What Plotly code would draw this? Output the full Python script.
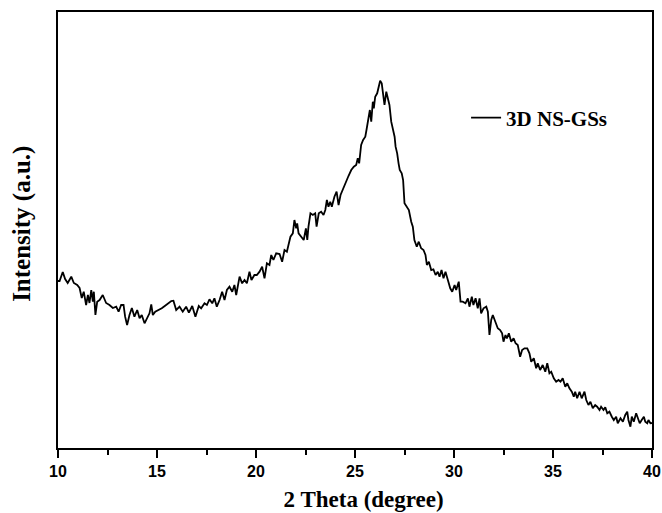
import plotly.graph_objects as go

# 2-theta positions (degree)
two_theta = [
    10.00, 10.08, 10.24, 10.36, 10.49, 10.67, 10.80, 10.97, 11.09, 11.20,
    11.30, 11.42, 11.51, 11.59, 11.68, 11.76, 11.81, 11.89, 11.98, 12.10,
    12.26, 12.43, 12.60, 12.77, 12.94, 13.06, 13.19, 13.31, 13.39, 13.49,
    13.61, 13.73, 13.86, 14.00, 14.12, 14.23, 14.37, 14.51, 14.62, 14.71,
    14.79, 14.91, 15.08, 15.24, 15.41, 15.58, 15.72, 15.83, 15.97, 16.14,
    16.30, 16.47, 16.61, 16.78, 16.94, 17.11, 17.23, 17.40, 17.52, 17.65,
    17.79, 17.90, 18.02, 18.16, 18.29, 18.41, 18.53, 18.66, 18.80, 18.91,
    19.00, 19.17, 19.30, 19.42, 19.54, 19.67, 19.77, 19.92, 20.04, 20.18,
    20.31, 20.43, 20.55, 20.68, 20.77, 20.88, 21.02, 21.19, 21.32, 21.44,
    21.56, 21.64, 21.74, 21.86, 21.94, 22.03, 22.08, 22.15, 22.28, 22.41,
    22.52, 22.59, 22.65, 22.75, 22.87, 22.99, 23.06, 23.17, 23.29, 23.41,
    23.50, 23.58, 23.66, 23.75, 23.83, 23.96, 24.07, 24.17, 24.27, 24.38,
    24.56, 24.67, 24.81, 24.94, 25.06, 25.14, 25.21, 25.31, 25.41, 25.52,
    25.58, 25.68, 25.75, 25.82, 25.90, 25.95, 26.02, 26.12, 26.19, 26.27,
    26.35, 26.44, 26.49, 26.58, 26.66, 26.74, 26.83, 26.91, 27.00, 27.05,
    27.13, 27.20, 27.26, 27.36, 27.43, 27.50, 27.62, 27.72, 27.84, 27.92,
    28.00, 28.12, 28.22, 28.34, 28.46, 28.56, 28.63, 28.73, 28.85, 28.96,
    29.07, 29.18, 29.27, 29.37, 29.47, 29.57, 29.69, 29.81, 29.91, 30.03,
    30.11, 30.24, 30.33, 30.44, 30.58, 30.70, 30.78, 30.90, 30.98, 31.09,
    31.20, 31.29, 31.37, 31.49, 31.63, 31.71, 31.79, 31.88, 31.96, 32.10,
    32.21, 32.33, 32.43, 32.50, 32.60, 32.67, 32.77, 32.89, 33.01, 33.11,
    33.22, 33.34, 33.44, 33.56, 33.70, 33.81, 33.90, 34.03, 34.15, 34.23,
    34.35, 34.48, 34.61, 34.71, 34.82, 34.91, 35.04, 35.16, 35.28, 35.38,
    35.49, 35.62, 35.72, 35.83, 35.95, 36.05, 36.12, 36.22, 36.34, 36.45,
    36.59, 36.68, 36.79, 36.89, 37.01, 37.13, 37.23, 37.35, 37.43, 37.55,
    37.64, 37.74, 37.85, 37.97, 38.07, 38.19, 38.27, 38.41, 38.53, 38.65,
    38.75, 38.81, 38.91, 38.98, 39.08, 39.20, 39.28, 39.38, 39.48, 39.59,
    39.66, 39.76, 39.82, 39.92, 40.00,
]

# Intensity (arbitrary units)
intensity = [
    164, 164, 173, 166, 162, 168.3, 162, 160, 157, 147,
    153.3, 140, 150, 142, 155, 143.3, 153.3, 130, 143.3, 145,
    150, 142, 140, 137, 138.3, 133.3, 140, 140, 128.3, 120,
    130, 137, 128.3, 135, 126.7, 130, 121.7, 126.7, 131.7, 140.7,
    130, 133.3, 135, 136.7, 139.3, 141.7, 144, 144.3, 135, 138.3,
    133.3, 138.3, 132.3, 139, 128.3, 139, 136.7, 141.7, 140, 145.7,
    141.7, 146.7, 138.3, 145, 153.3, 145, 155, 158.3, 153.3, 160,
    150, 168.3, 161.7, 165, 161.7, 173.3, 165, 170, 170, 173.3,
    178.3, 166.7, 181.7, 180, 190, 185, 191.7, 191, 183.3, 195,
    193.3, 200, 208.3, 211.7, 225, 216.7, 221.7, 211.7, 208.3, 205,
    216.7, 205, 218.3, 231.7, 230, 231.7, 218.3, 231.7, 233.3, 230,
    235, 245, 238.3, 243.3, 238.3, 248.3, 253.3, 240, 250, 255.7,
    265, 269, 275, 278.3, 280, 286.7, 281.7, 300, 305, 308.3,
    315, 325, 335, 323.3, 343.3, 336.7, 348.3, 351.7, 356.7, 364.3,
    361.7, 350, 340, 353.3, 346.7, 340, 323.3, 315, 308.3, 298.3,
    291.7, 281.7, 275, 271.7, 265, 241.7, 238.3, 235, 223.3, 218.3,
    205, 198.3, 203.3, 196.7, 195, 190, 180, 183.3, 175, 175.7,
    170, 173.3, 168.3, 175, 166.7, 173.3, 165, 156.7, 153.3, 160,
    155, 163.3, 143.3, 143.3, 141.7, 146.7, 138.3, 148.3, 140, 146.7,
    136.7, 146.7, 131.7, 136.7, 138.3, 133.3, 110, 125, 130, 123.3,
    116.7, 115, 111.7, 103.3, 110, 106.7, 111.7, 103.3, 106.7, 101.7,
    100, 88.3, 95, 96.7, 96.7, 91.7, 83.3, 86.7, 76.7, 81.7,
    75, 80, 73.3, 81.7, 71.7, 73.3, 66.7, 63.3, 65, 63.3,
    66.7, 58.3, 61.7, 56.7, 53.3, 48.3, 53.3, 46.7, 53.3, 46.7,
    53.3, 45, 40, 43.3, 36.7, 40, 38.3, 35, 38.3, 35,
    37.7, 31.7, 33.3, 28.3, 25, 28.3, 21.7, 26.7, 23.3, 30,
    33.3, 25, 18.3, 28.3, 23.3, 31.7, 26.7, 21.7, 25, 28.3,
    23.3, 21.7, 25, 21.7, 22,
]

assert len(two_theta) == len(intensity), (len(two_theta), len(intensity))

series_name = "3D NS-GSs"
x_title = "2 Theta (degree)"
y_title = "Intensity (a.u.)"
x_tick_vals = [10, 15, 20, 25, 30, 35, 40]

fig = go.Figure()
fig.add_trace(go.Scatter(
    x=two_theta, y=intensity, mode="lines", name=series_name,
    line=dict(color="black", width=1.8),
))

serif = "Liberation Serif"
sans = "Liberation Sans"

fig.update_layout(
    width=662, height=513,
    margin=dict(l=58, r=10, t=12, b=65, autoexpand=False),
    paper_bgcolor="white", plot_bgcolor="white",
    showlegend=True,
    legend=dict(
        x=0.687, y=0.757, xanchor="left", yanchor="middle",
        bgcolor="rgba(0,0,0,0)", borderwidth=0,
        font=dict(family=serif, size=21, color="black", weight="bold"),
    ),
    xaxis=dict(
        range=[10, 40], tickmode="array", tickvals=x_tick_vals,
        ticks="outside", ticklen=8, tickwidth=1.5, tickcolor="black",
        showline=True, linewidth=1.6, linecolor="black", mirror=True,
        showgrid=False, zeroline=False, automargin=False,
        tickfont=dict(family=sans, size=16, color="black", weight="bold"),
        minor=dict(dtick=2.5, tick0=10, ticks="outside", ticklen=5,
                   tickwidth=1.5, tickcolor="black", showgrid=False),
        title=dict(text="&nbsp;&nbsp;&nbsp;" + x_title, standoff=12,
                   font=dict(family=serif, size=23, color="black", weight="bold")),
    ),
    yaxis=dict(
        range=[-3, 433], showticklabels=False, ticks="",
        showline=True, linewidth=1.6, linecolor="black", mirror=True,
        showgrid=False, zeroline=False, automargin=False,
        title=dict(text="&nbsp;&nbsp;" + y_title, standoff=18,
                   font=dict(family=serif, size=25, color="black", weight="bold")),
    ),
)

fig.write_html("out.html", config={"displayModeBar": False},
               post_script="document.body.style.margin='0';")
